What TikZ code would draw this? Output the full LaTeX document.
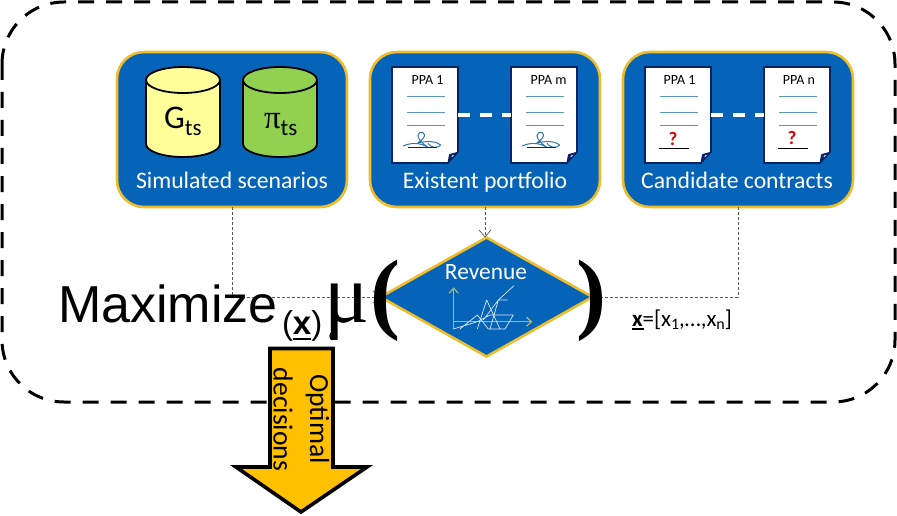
\documentclass[tikz,border=0pt]{standalone}
\usepackage{fontspec}
\setmainfont{Carlito}
\newfontfamily\arialf{Liberation Sans}
\newfontfamily\timesf{Liberation Serif}
\usetikzlibrary{shapes.geometric,arrows.meta,calc}
\definecolor{boxblue}{RGB}{5,100,184}
\definecolor{boxgold}{RGB}{240,188,40}
\definecolor{navy}{RGB}{10,35,100}
\definecolor{cylyellow}{RGB}{255,255,153}
\definecolor{cylgreen}{RGB}{146,208,80}
\definecolor{arroworange}{RGB}{255,192,0}
\definecolor{rulelines}{RGB}{90,150,190}
\definecolor{sigblue}{RGB}{50,120,170}
\definecolor{axiscol}{RGB}{185,185,95}
\tikzset{
  every node/.style={inner sep=0pt,outer sep=0pt},
  frame/.style={draw=black,line width=3pt,dash pattern=on 16pt off 12pt,rounded corners=62pt},
  panel/.style={draw=boxgold,fill=boxblue,line width=2.6pt,rounded corners=27pt,minimum width=230pt,minimum height=155pt},
  paneltext/.style={text=white,font=\fontsize{23.7}{25}\selectfont,anchor=base},
  cyl/.style={draw=black,line width=1.8pt},
  ppadoc/.style={draw=navy,fill=white,line width=1.6pt,minimum width=66pt,minimum height=96pt},
  ppatext/.style={font=\fontsize{14}{15}\selectfont,anchor=base,text=black},
  docdash/.style={draw=white,line width=3.4pt,dash pattern=on 12pt off 10pt},
  link/.style={draw=black!65,line width=0.8pt,dash pattern=on 3pt off 2pt},
  barb/.style={-{Straight Barb[length=7pt,width=12pt,line width=0.7pt]}},
  qmark/.style={text=red!85!black,font=\bfseries\fontsize{19}{20}\selectfont},
}
\newcommand{\drawcyl}[3]{% left x, colour, name
  \draw[cyl,fill=#2] (#1,80) -- (#1,144) arc[start angle=180,end angle=0,x radius=37,y radius=13] -- (#1+74,80);
  \draw[cyl,fill=#2] (#1+37,80) ellipse[x radius=37,y radius=13];
}
\newcommand{\docparts}[4]{% name, left x, label, label x
  \node[ppadoc] (#1) at (#2+33,115) {};
  \fill[boxblue] (#2+67,151) -- (#2+67,164) -- (#2+55,164) -- cycle;
  \draw[navy,line width=1.5pt,line join=round] (#2+66,148) -- (#2+66,152) -- (#2+55.5,163.5) -- (#2+50,163.5);
  \filldraw[fill=navy,draw=navy,line width=0.8pt,line join=round] (#2+56,162.5) -- (#2+57.5,154.5) -- (#2+65,152.5) -- cycle;
  \fill[white] (#2+59.5,157.5) -- (#2+60,155.5) -- (#2+62,155) -- cycle;
  \node[ppatext] (#1t) at (#4,84.5) {#3};
  \foreach \yy in {97,113,126}{\draw[rulelines,line width=1pt] (#2+15,\yy) -- (#2+53,\yy);}
}
\newcommand{\sig}[1]{%
  \begin{scope}[shift={(#1-32.33,40)},scale=1/3]
    \draw[sigblue,line width=1pt,line join=round] (130,318) .. controls (160,305) and (185,310) .. (205,322)
      .. controls (185,310) and (165,285) .. (180,278)
      .. controls (195,272) and (205,290) .. (175,308)
      .. controls (195,305) and (225,300) .. (243,315)
      .. controls (235,325) and (215,325) .. (205,310);
    \draw[navy,line width=1pt] (145,323) -- (232,323);
  \end{scope}
}
\begin{document}
\begin{tikzpicture}[x=1pt,y=-1pt]
\useasboundingbox (0,0) rectangle (897,516);
\fill[white] (0,0) rectangle (897,516);
% outer frame
\path[frame] (2,2) rectangle (895,402);
% panels
\node[panel] (sim) at (232,129.5) {};
\node[panel] (port) at (485,129.5) {};
\node[panel] (cand) at (738,129.5) {};
\node[paneltext] (simt) at (232,188) {Simulated scenarios};
\node[paneltext] (portt) at (485,188) {Existent portfolio};
\node[paneltext] (candt) at (737,188) {Candidate contracts};
% cylinders
\drawcyl{146}{cylyellow}{g}
\drawcyl{243}{cylgreen}{p}
\node[anchor=base west] (gts) at (164,129) {\fontsize{33}{34}\selectfont G\raisebox{-7pt}{\fontsize{23}{25}\selectfont ts}};
\node[anchor=base west] (pits) at (264,129) {{\timesf\fontsize{33}{34}\selectfont π}\raisebox{-7pt}{\fontsize{23}{25}\selectfont ts}};
% existent docs
\docparts{pa}{392}{PPA 1}{427.5}
\docparts{pb}{511}{PPA m}{548.5}
\sig{392}
\sig{511}
\draw[docdash] (pa.east) -- (pb.west);
% candidate docs
\docparts{ca}{645}{PPA 1}{679.5}
\docparts{cb}{764}{PPA n}{799}
\draw[docdash] (ca.east) -- (cb.west);
\node[qmark] (qa) at (673,139) {?};
\node[qmark] (qb) at (792,138) {?};
\draw[black,line width=0.9pt] (659,148.5) -- (689,148.5);
\draw[black,line width=0.9pt] (778,148.5) -- (808,148.5);
% diamond
\node[diamond,draw=boxgold,fill=boxblue,line width=2.6pt,minimum width=212pt,minimum height=119pt] (rev) at (486.5,297) {};
\node[text=white,anchor=base,font=\fontsize{23.4}{25}\selectfont] (revt) at (486,279) {Revenue};
\begin{scope}[shift={(370,220)},scale=1/3]
  \draw[axiscol,line width=1.1pt,-{Straight Barb[length=5pt,width=9pt]}] (251,327) -- (251,202);
  \draw[axiscol,line width=1.1pt,-{Straight Barb[length=5pt,width=9pt]}] (251,305) -- (487,305);
  \draw[white!85!boxblue,line width=0.7pt,line join=round]
    (270,327) -- (322,285) -- (355,327) -- (405,327) -- (430,285) -- (360,285) -- (322,305) -- (250,327)
    (322,327) -- (350,240) -- (390,327)
    (360,327) -- (385,240) -- (413,240)
    (340,300) -- (385,240) -- (432,197);
\end{scope}
% connectors
\draw[link,barb] (sim.south) |- (rev.west);
\draw[link,barb] (port.south) -- (rev.north -| port.south);
\draw[link] (cand.south) |- (rev.east);
% texts
\node[anchor=base west] (maxi) at (58,322) {\arialf\fontsize{52}{54}\selectfont Maximize};
\node[anchor=base west] (sub) at (282,334) {\arialf\fontsize{33}{35}\selectfont (\rlap{\rule[-6pt]{18.5pt}{2.4pt}}\textbf{x})};
\node[anchor=base west] (mu) at (324,322) {\timesf\fontsize{84}{86}\selectfont μ};
\fill[black] (332.5,336) ellipse[x radius=3.2,y radius=4.2];
\node[anchor=base] (lp) at (385,322.5) {\timesf\bfseries\fontsize{90}{92}\selectfont (};
\node[anchor=base] (rp) at (591,322.5) {\timesf\bfseries\fontsize{90}{92}\selectfont )};
\node[anchor=base west] (xvec) at (632,326) {\fontsize{23}{25}\selectfont \rlap{\rule[-3.5pt]{11.5pt}{1.7pt}}\textbf{x}=[x\raisebox{-3.5pt}{\fontsize{16}{17}\selectfont 1},…,x\raisebox{-3.5pt}{\fontsize{16}{17}\selectfont n}]};
% result arrow
\draw[black,fill=arroworange,line width=3.6pt,miter limit=10] (270,348.5) -- (333,348.5) -- (333,467) -- (367,467) -- (301,512) -- (236,467) -- (270,467) -- cycle;
\node[rotate=-90,font=\fontsize{27.6}{29}\selectfont] (opt) at (317.5,419) {Optimal};
\node[rotate=-90,font=\fontsize{27.6}{29}\selectfont] (dec) at (283,419.5) {decisions};
\end{tikzpicture}
\end{document}
